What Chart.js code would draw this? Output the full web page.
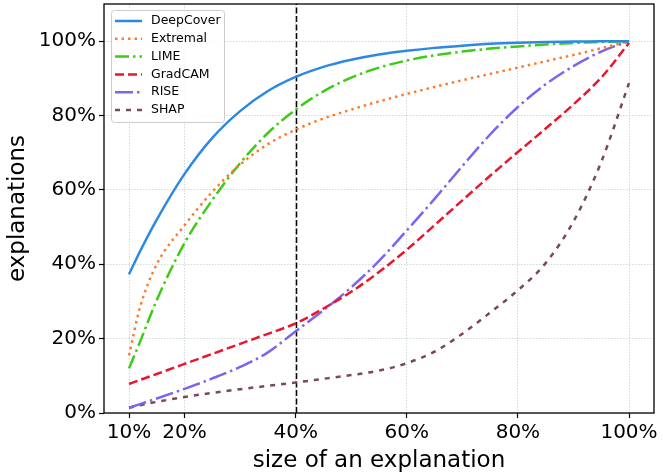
<!DOCTYPE html>
<html lang="en">
<head>
<meta charset="utf-8">
<title>explanation size</title>
<script src="https://cdn.jsdelivr.net/npm/chart.js"></script>
<style>
  html, body { margin: 0; padding: 0; background: #fff; }
  #myChart { display: block; }
</style>
</head>
<body>
<canvas id="myChart" width="663" height="475"></canvas>
<script>
// size of an explanation (%)
const sizes = [10, 12, 15, 20, 25, 30, 35, 40, 45, 50, 55, 60, 65, 70, 75, 80, 85, 90, 95, 100];

// explanations (%)
const deepCover = [37.3, 43.5, 52, 64.3, 74, 81.2, 86.6, 90.4, 93.1, 95, 96.4, 97.4, 98.2, 98.8, 99.3, 99.6, 99.8, 99.9, 100, 100];
const extremal  = [15.5, 28.5, 40, 50.5, 59.5, 66.8, 72.3, 76.2, 79.2, 81.6, 83.8, 85.8, 87.7, 89.5, 91.2, 92.9, 94.6, 96.3, 98.1, 100];
const lime      = [12, 19.2, 30.4, 45.7, 57.3, 67.2, 75.3, 81.6, 86.5, 90.2, 92.9, 94.8, 96.2, 97.2, 98, 98.6, 99.1, 99.5, 99.8, 100];
const gradCam   = [7.8, 8.9, 10.5, 13.2, 15.9, 18.6, 21.3, 24.1, 28.1, 32.6, 37.9, 43.9, 50.5, 57.2, 63.8, 70.2, 76.5, 83, 90.2, 99.5];
const rise      = [1.4, 2.4, 3.9, 6.5, 9.3, 12.4, 16.3, 22, 27.6, 33.8, 40.9, 49.1, 57.6, 66.4, 74.9, 82.3, 88.4, 93.3, 97.2, 100];
const shap      = [1.4, 2.1, 3, 4.3, 5.4, 6.4, 7.3, 8.2, 9.2, 10.2, 11.4, 13.4, 16.5, 21.3, 27, 33, 40.3, 51.5, 67.5, 88.7];

const xTicks = [10, 20, 40, 60, 80, 100];
const yTicks = [0, 20, 40, 60, 80, 100];
const markSize = 40;

const FONT = "'DejaVu Sans', sans-serif";

function pts(arr){
  return arr.map((v, i) => ({x: sizes[i], y: v}));
}

function series(label, arr, color, dash){
  return {
    label: label,
    data: pts(arr),
    borderColor: color,
    backgroundColor: color,
    borderWidth: 2.5,
    borderDash: dash,
    borderCapStyle: 'butt',
    pointRadius: 0,
    fill: false,
    cubicInterpolationMode: 'monotone'
  };
}

const datasets = [
  series('DeepCover', deepCover, '#2b89e3', []),
  series('Extremal', extremal, '#fb7c2e', [2.5, 4]),
  series('LIME', lime, '#3ccc16', [14, 4, 2.5, 4]),
  series('GradCAM', gradCam, '#e8172d', [9, 4]),
  series('RISE', rise, '#7a66ee', [18, 4, 2.5, 4]),
  series('SHAP', shap, '#7a4a50', [5, 6])
];

// 40% marker line, frame and in-axes legend
const extras = {
  id: 'extras',
  beforeDatasetsDraw(chart){
    const {ctx, chartArea: a, scales} = chart;
    const x = Math.round(scales.x.getPixelForValue(markSize)) + 0.5;
    ctx.save();
    ctx.strokeStyle = '#000';
    ctx.lineWidth = 1.5;
    ctx.setLineDash([6, 2.5]);
    ctx.beginPath();
    ctx.moveTo(x, a.bottom);
    ctx.lineTo(x, a.top);
    ctx.stroke();
    ctx.restore();
  },
  afterDraw(chart){
    const {ctx, chartArea: a} = chart;
    ctx.save();
    ctx.strokeStyle = '#000';
    ctx.lineWidth = 1.3;
    ctx.strokeRect(a.left, a.top, a.right - a.left, a.bottom - a.top);

    // legend box
    const bx = a.left + 7, by = a.top + 6, bw = 113, bh = 112;
    ctx.fillStyle = 'rgba(255,255,255,0.85)';
    ctx.strokeStyle = '#cccccc';
    ctx.lineWidth = 1;
    ctx.beginPath();
    ctx.roundRect(bx + 0.5, by + 0.5, bw, bh, 3);
    ctx.fill();
    ctx.stroke();

    ctx.font = '12.5px ' + FONT;
    ctx.textBaseline = 'middle';
    chart.data.datasets.forEach((ds, i) => {
      const y = by + 11 + i * 17.8;
      ctx.strokeStyle = ds.borderColor;
      ctx.lineWidth = ds.borderWidth;
      ctx.lineCap = 'butt';
      ctx.setLineDash(ds.borderDash);
      ctx.beginPath();
      ctx.moveTo(bx + 4, y);
      ctx.lineTo(bx + 31, y);
      ctx.stroke();
      ctx.setLineDash([]);
      ctx.fillStyle = '#000';
      ctx.fillText(ds.label, bx + 40, y);
    });
    ctx.restore();
  }
};

const gridStyle = {
  color: 'rgba(165,190,190,0.55)',
  lineWidth: 1,
  drawTicks: true,
  tickLength: 5,
  tickColor: '#000',
  tickWidth: 1.2
};

new Chart(document.getElementById('myChart'), {
  type: 'line',
  data: {datasets: datasets},
  options: {
    responsive: false,
    animation: false,
    devicePixelRatio: 1,
    layout: {padding: {left: 0, right: 9, top: 4, bottom: 0}},
    plugins: {legend: {display: false}, tooltip: {enabled: false}},
    scales: {
      x: {
        type: 'linear',
        min: 5.5,
        max: 104.5,
        afterBuildTicks: s => { s.ticks = xTicks.map(v => ({value: v})); },
        afterFit: s => { s.height = 62; s.paddingLeft = 0; s.paddingRight = 0; },
        grid: gridStyle,
        border: {display: false, dash: [1.5, 1.5]},
        ticks: {
          color: '#000',
          padding: 3,
          maxRotation: 0,
          font: {family: FONT, size: 20},
          callback: v => v + '%'
        },
        title: {
          display: true,
          text: 'size of an explanation',
          color: '#000',
          font: {family: FONT, size: 23},
          padding: {top: 0, bottom: 0}
        }
      },
      y: {
        type: 'linear',
        min: 0,
        max: 110,
        afterBuildTicks: s => { s.ticks = yTicks.map(v => ({value: v})); },
        afterFit: s => { s.width = 104; s.paddingTop = 0; s.paddingBottom = 0; },
        grid: gridStyle,
        border: {display: false, dash: [1.5, 1.5]},
        ticks: {
          color: '#000',
          padding: 3,
          font: {family: FONT, size: 20},
          callback: v => v + '%'
        },
        title: {
          display: true,
          text: 'explanations',
          color: '#000',
          font: {family: FONT, size: 23},
          padding: {top: 4, bottom: 4}
        }
      }
    }
  },
  plugins: [extras]
});
</script>
</body>
</html>
